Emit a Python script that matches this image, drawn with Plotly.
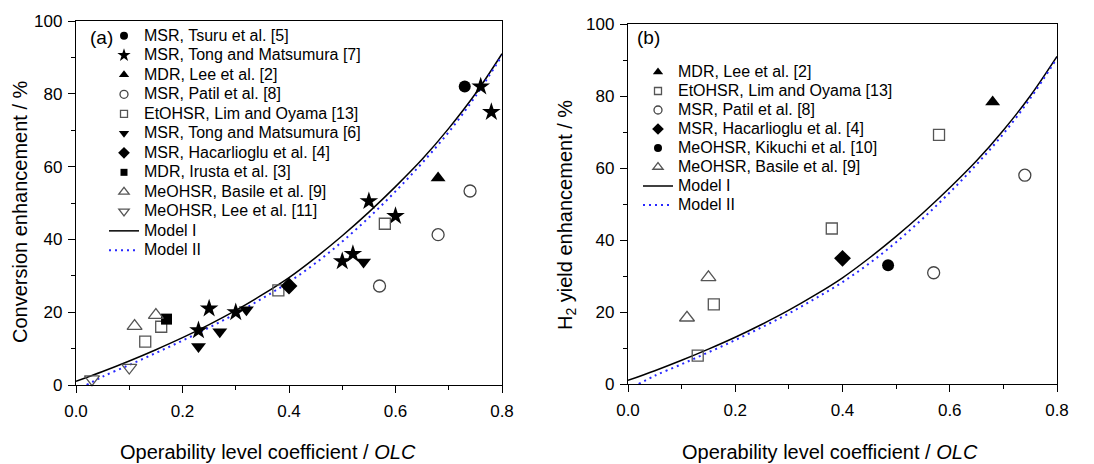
import plotly.graph_objects as go

# ---------------- data ----------------
# Panel (a): conversion enhancement vs OLC
a_tsuru_x = [0.73]; a_tsuru_y = [82]
a_tong7_x = [0.23, 0.25, 0.30, 0.50, 0.52, 0.55, 0.60, 0.76, 0.78]
a_tong7_y = [15, 21, 20, 34, 36, 50.5, 46.4, 82, 75]
a_leemdr_x = [0.68]; a_leemdr_y = [56.9]
a_patil_x = [0.57, 0.68, 0.74]; a_patil_y = [27.2, 41.3, 53.3]
a_lim_x = [0.13, 0.16, 0.38, 0.58]; a_lim_y = [11.9, 16, 26, 44.3]
a_tong6_x = [0.23, 0.27, 0.32, 0.54]; a_tong6_y = [10.6, 14.6, 20.7, 33.8]
a_hac_x = [0.40]; a_hac_y = [27.2]
a_irusta_x = [0.17]; a_irusta_y = [18.1]
a_basile_x = [0.11, 0.15]; a_basile_y = [16.2, 19.2]
a_lee11_x = [0.03, 0.10]; a_lee11_y = [1.6, 4.8]

# Panel (b): H2 yield enhancement vs OLC
b_leemdr_x = [0.68]; b_leemdr_y = [78.3]
b_lim_x = [0.13, 0.16, 0.38, 0.58]; b_lim_y = [7.9, 22.1, 43.2, 69.2]
b_patil_x = [0.57, 0.74]; b_patil_y = [30.9, 58]
b_hac_x = [0.40]; b_hac_y = [34.9]
b_kikuchi_x = [0.485]; b_kikuchi_y = [33]
b_basile_x = [0.11, 0.15]; b_basile_y = [18.4, 29.6]

# Model curves (same in both panels)
m1_x = [0, 0.05, 0.1, 0.15, 0.2, 0.25, 0.3, 0.35, 0.4, 0.45, 0.5, 0.55, 0.6, 0.65, 0.7, 0.75, 0.8]
m1_y = [1, 3.7, 6.6, 9.7, 13, 16.6, 20.5, 24.8, 29.5, 35, 41, 47.5, 54.5, 62, 70.5, 80, 91]
m2_x = [0.02, 0.05, 0.1, 0.15, 0.2, 0.25, 0.3, 0.35, 0.4, 0.45, 0.5, 0.55, 0.6, 0.65, 0.7, 0.75, 0.8]
m2_y = [0, 2.3, 5.5, 8.8, 12.2, 15.8, 19.6, 23.8, 28.3, 33.5, 39.4, 46, 53.2, 61, 69.5, 79.3, 90.5]

x_ticks = [0.0, 0.2, 0.4, 0.6, 0.8]
x_ticklabels = ["0.0", "0.2", "0.4", "0.6", "0.8"]
y_ticks = [0, 20, 40, 60, 80, 100]

# ---------------- geometry helpers ----------------
# The page body has an 8px margin, so the figure is sized to fit the window
# and screen positions are converted to paper fractions.
OFF = 8
W, H = 1094 - OFF, 464 - OFF

def px(xs):
    return (xs - OFF) / W

def py(ys):
    return 1 - (ys - OFF) / H

# ---------------- styles ----------------
FONT = "Liberation Sans, Arial, sans-serif"
BLACK = "#000000"
GRAY = "#555555"
BLUE = "#2828ff"

styles = {
    "circle": dict(symbol="circle", size=12, color=BLACK),
    "star": dict(symbol="star", size=14, color=BLACK),
    "tri": dict(symbol="triangle-up", size=13, color=BLACK),
    "ocircle": dict(symbol="circle-open", size=12, color="#444444", line=dict(width=1.3, color="#444444")),
    "osquare": dict(symbol="square-open", size=11, color=GRAY, line=dict(width=1.3, color=GRAY)),
    "tridown": dict(symbol="triangle-down", size=13, color=BLACK),
    "diamond": dict(symbol="diamond", size=13, color=BLACK),
    "square": dict(symbol="square", size=11, color=BLACK),
    "otri": dict(symbol="triangle-up-open", size=13, color=GRAY, line=dict(width=1.3, color=GRAY)),
    "otridown": dict(symbol="triangle-down-open", size=13, color=GRAY, line=dict(width=1.3, color=GRAY)),
}

def legend_marker(st):
    m = dict(st)
    m["size"] = max(7, st["size"] - 4)
    return m

def legend_label(name):
    return "<span style='font-size:16px'>" + name + "</span>"

fig = go.Figure()

panel_a = [
    ("MSR, Tsuru et al. [5]", a_tsuru_x, a_tsuru_y, "circle"),
    ("MSR, Tong and Matsumura [7]", a_tong7_x, a_tong7_y, "star"),
    ("MDR, Lee et al. [2]", a_leemdr_x, a_leemdr_y, "tri"),
    ("MSR, Patil et al. [8]", a_patil_x, a_patil_y, "ocircle"),
    ("EtOHSR, Lim and Oyama [13]", a_lim_x, a_lim_y, "osquare"),
    ("MSR, Tong and Matsumura [6]", a_tong6_x, a_tong6_y, "tridown"),
    ("MSR, Hacarlioglu et al. [4]", a_hac_x, a_hac_y, "diamond"),
    ("MDR, Irusta et al. [3]", a_irusta_x, a_irusta_y, "square"),
    ("MeOHSR, Basile et al. [9]", a_basile_x, a_basile_y, "otri"),
    ("MeOHSR, Lee et al. [11]", a_lee11_x, a_lee11_y, "otridown"),
]
panel_b = [
    ("MDR, Lee et al. [2]", b_leemdr_x, b_leemdr_y, "tri"),
    ("EtOHSR, Lim and Oyama [13]", b_lim_x, b_lim_y, "osquare"),
    ("MSR, Patil et al. [8]", b_patil_x, b_patil_y, "ocircle"),
    ("MSR, Hacarlioglu et al. [4]", b_hac_x, b_hac_y, "diamond"),
    ("MeOHSR, Kikuchi et al. [10]", b_kikuchi_x, b_kikuchi_y, "circle"),
    ("MeOHSR, Basile et al. [9]", b_basile_x, b_basile_y, "otri"),
]

def add_panel(items, xa, ya, leg):
    fig.add_trace(go.Scatter(x=m1_x, y=m1_y, mode="lines", line=dict(color=BLACK, width=1.5, shape="spline"),
                             xaxis=xa, yaxis=ya, showlegend=False, hoverinfo="skip"))
    fig.add_trace(go.Scatter(x=m2_x, y=m2_y, mode="lines",
                             line=dict(color=BLUE, width=2, dash="2px,4px", shape="spline"),
                             xaxis=xa, yaxis=ya, showlegend=False, hoverinfo="skip"))
    for name, xs, ys, key in items:
        fig.add_trace(go.Scatter(x=xs, y=ys, mode="markers", marker=styles[key], name=name,
                                 xaxis=xa, yaxis=ya, showlegend=False, cliponaxis=False))
    for name, xs, ys, key in items:
        fig.add_trace(go.Scatter(x=[None], y=[None], mode="markers", marker=legend_marker(styles[key]),
                                 name=legend_label(name), xaxis=xa, yaxis=ya, legend=leg))
    fig.add_trace(go.Scatter(x=[None], y=[None], mode="lines", line=dict(color=BLACK, width=1.5),
                             name=legend_label("Model I"), xaxis=xa, yaxis=ya, legend=leg))
    fig.add_trace(go.Scatter(x=[None], y=[None], mode="lines",
                             line=dict(color=BLUE, width=2, dash="2px,4px"),
                             name=legend_label("Model II"), xaxis=xa, yaxis=ya, legend=leg))

add_panel(panel_a, "x", "y", "legend")
add_panel(panel_b, "x2", "y2", "legend2")

axis_common = dict(showline=True, linecolor=BLACK, linewidth=1.3, mirror=True, showgrid=False, zeroline=False,
                   ticks="outside", ticklen=7, tickwidth=1.3, tickcolor=BLACK, automargin=False,
                   tickfont=dict(family=FONT, size=17, color=BLACK))
minor_x = dict(dtick=0.1, ticks="outside", ticklen=4, tickwidth=1.3, tickcolor=BLACK)
minor_y = dict(dtick=10, ticks="outside", ticklen=4, tickwidth=1.3, tickcolor=BLACK)

fig.update_layout(
    width=W, height=H,
    paper_bgcolor="white", plot_bgcolor="white",
    margin=dict(l=0, r=0, t=0, b=0, pad=0),
    font=dict(family=FONT, color=BLACK),
    xaxis=dict(domain=[px(76), px(502)], range=[0, 0.8], tickvals=x_ticks, ticktext=x_ticklabels,
               minor=minor_x, anchor="y", ticklabelstandoff=3, **axis_common),
    yaxis=dict(domain=[py(385), py(21)], range=[0, 100], tickvals=y_ticks,
               minor=minor_y, anchor="x", ticklabelstandoff=2, **axis_common),
    xaxis2=dict(domain=[px(628), px(1057)], range=[0, 0.8], tickvals=x_ticks, ticktext=x_ticklabels,
                minor=minor_x, anchor="y2", ticklabelstandoff=3, **axis_common),
    yaxis2=dict(domain=[py(384), py(24)], range=[0, 100], tickvals=y_ticks,
                minor=minor_y, anchor="x2", ticklabelstandoff=2, **axis_common),
    legend=dict(x=96 / W, y=1 - 13 / H, xanchor="left", yanchor="top", bgcolor="rgba(0,0,0,0)",
                font=dict(family=FONT, size=12.7, color=BLACK), tracegroupgap=0, itemwidth=30),
    legend2=dict(x=630 / W, y=1 - 49.5 / H, xanchor="left", yanchor="top", bgcolor="rgba(0,0,0,0)",
                 font=dict(family=FONT, size=11.9, color=BLACK), tracegroupgap=0, itemwidth=30),
    showlegend=True,
)

ann_font = dict(family=FONT, size=20, color=BLACK)
fig.add_annotation(text="Conversion enhancement / %", x=px(20), y=py(212), xref="paper", yref="paper",
                   textangle=-90, showarrow=False, font=ann_font, xanchor="center", yanchor="middle")
fig.add_annotation(text="H<sub>2</sub> yield enhancement / %", x=px(566), y=py(215), xref="paper", yref="paper",
                   textangle=-90, showarrow=False, font=ann_font, xanchor="center", yanchor="middle")
fig.add_annotation(text="Operability level coefficient / <i>OLC</i>", x=px(268), y=py(452),
                   xref="paper", yref="paper", showarrow=False, font=ann_font, xanchor="center", yanchor="middle")
fig.add_annotation(text="Operability level coefficient / <i>OLC</i>", x=px(830), y=py(452),
                   xref="paper", yref="paper", showarrow=False, font=ann_font, xanchor="center", yanchor="middle")
fig.add_annotation(text="(a)", x=px(101), y=py(37), xref="paper", yref="paper", showarrow=False,
                   font=dict(family=FONT, size=19, color=BLACK), xanchor="center", yanchor="middle")
fig.add_annotation(text="(b)", x=px(648), y=py(38), xref="paper", yref="paper", showarrow=False,
                   font=dict(family=FONT, size=19, color=BLACK), xanchor="center", yanchor="middle")

fig.write_html("out.html")
